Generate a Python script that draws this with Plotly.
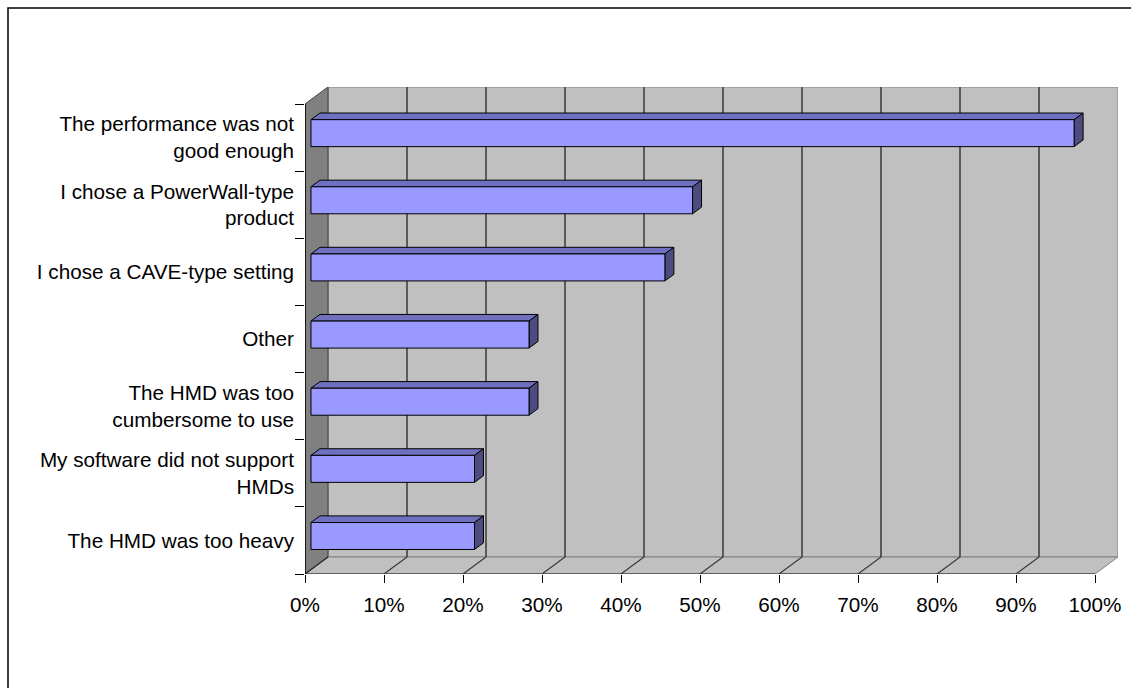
import plotly.graph_objects as go

# Survey answers (top to bottom) and share of respondents in percent
categories = [
    "The performance was not<br>good enough",
    "I chose a PowerWall-type<br>product",
    "I chose a CAVE-type setting",
    "Other",
    "The HMD was too<br>cumbersome to use",
    "My software did not support<br>HMDs",
    "The HMD was too heavy",
]
values = [96.6, 48.3, 44.8, 27.6, 27.6, 20.7, 20.7]
x_ticks = [0, 10, 20, 30, 40, 50, 60, 70, 80, 90, 100]
x_tick_labels = [f"{v}%" for v in x_ticks]

n = len(categories)
centers = [n - 1 - i + 0.5 for i in range(n)]

# oblique projection of the depth direction (in axis units)
DX, DY = 2.911, 0.2532
D_FRONT, D_BACK = 0.26, 0.65
HALF = 0.201

FONT = "Liberation Sans, Arial, sans-serif"
fig = go.Figure()


def poly(xs, ys, fill, line_color, width=1.0):
    fig.add_trace(go.Scatter(
        x=xs, y=ys, mode="lines", fill="toself", fillcolor=fill,
        line=dict(color=line_color, width=width), hoverinfo="skip",
        showlegend=False))


def seg(xs, ys, color, width=1.0):
    fig.add_trace(go.Scatter(
        x=xs, y=ys, mode="lines", line=dict(color=color, width=width),
        hoverinfo="skip", showlegend=False))


top = float(n)
# back wall
poly([DX, 100 + DX, 100 + DX, DX, DX], [DY, DY, top + DY, top + DY, DY], "#C0C0C0", "#808080")
# side wall
poly([0, DX, DX, 0, 0], [0, DY, top + DY, top, 0], "#808080", "#404040")
# floor
poly([0, 100, 100 + DX, DX, 0], [0, 0, DY, DY, 0], "#C0C0C0", "#808080")

# gridlines on the back wall and across the floor
gx, gy, fx, fy = [], [], [], []
for t in x_ticks[1:-1]:
    gx += [t + DX, t + DX, None]
    gy += [DY, top + DY, None]
    fx += [t, t + DX, None]
    fy += [0, DY, None]
seg(gx, gy, "#3a3a3a", 1.5)
seg(fx, fy, "#3a3a3a", 1.2)
seg([0, DX], [0, DY], "#202020", 1.2)

# axis lines
seg([0, 100], [0, 0], "#202020", 1.2)
seg([0, 0], [0, top], "black", 1.5)

# 3-D bars: front, top and side faces
dx1, dy1 = DX * D_FRONT, DY * D_FRONT
dx2, dy2 = DX * D_BACK, DY * D_BACK
front_x, front_y, top_x, top_y, side_x, side_y = [], [], [], [], [], []
for v, c in zip(values, centers):
    lo, hi = c + dy1 - HALF, c + dy1 + HALF
    front_x += [dx1, v + dx1, v + dx1, dx1, dx1, None]
    front_y += [lo, lo, hi, hi, lo, None]
    top_x += [dx1, v + dx1, v + dx2, dx2, dx1, None]
    top_y += [hi, hi, c + dy2 + HALF, c + dy2 + HALF, hi, None]
    side_x += [v + dx1, v + dx2, v + dx2, v + dx1, v + dx1, None]
    side_y += [lo, c + dy2 - HALF, c + dy2 + HALF, hi, lo, None]
poly(top_x, top_y, "#7070C0", "black")
poly(side_x, side_y, "#4C4C80", "black")
poly(front_x, front_y, "#9999FF", "black")

# outer chart border
fig.add_shape(type="rect", xref="paper", yref="paper",
              x0=(8 - 305) / 813, x1=1.2, y0=-0.6, y1=(574 - 8) / 487,
              line=dict(color="black", width=1.5), fillcolor="rgba(0,0,0,0)")

fig.update_layout(
    width=1131, height=688,
    margin=dict(l=305, r=13, t=87, b=114, pad=0),
    paper_bgcolor="white", plot_bgcolor="white",
    font=dict(family=FONT, size=20.7, color="black"),
    showlegend=False,
    xaxis=dict(
        range=[0, 100 + DX], tickmode="array", tickvals=x_ticks,
        ticktext=x_tick_labels, ticks="outside", ticklen=8, tickcolor="black",
        tickwidth=1, ticklabelstandoff=4, showgrid=False, zeroline=False,
        showline=False, automargin=False, fixedrange=True,
    ),
    yaxis=dict(
        range=[0, top + DY], tickmode="array", tickvals=centers,
        ticktext=categories, ticks="", ticklabelstandoff=10,
        showgrid=False, zeroline=False, showline=False, automargin=False,
        fixedrange=True,
        minor=dict(tickmode="linear", tick0=0, dtick=1, ticks="outside",
                   ticklen=9, tickcolor="black", tickwidth=1, showgrid=False),
    ),
)

fig.write_html("out.html")
